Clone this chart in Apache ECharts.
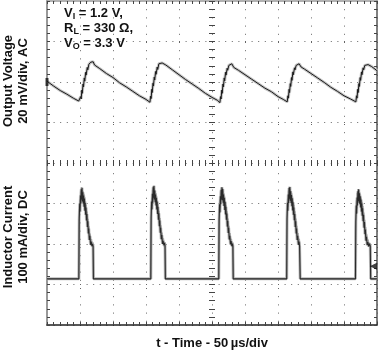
<!DOCTYPE html>
<html>
<head>
<meta charset="utf-8">
<script src="https://cdn.jsdelivr.net/npm/echarts@6/dist/echarts.min.js"></script>
<style>
  html, body { margin: 0; padding: 0; background: #fff; }
  #chart { width: 380px; height: 355px; }
</style>
</head>
<body>
<div id="chart"></div>
<script>
// Time axis: µs (50 µs/div, 10 divisions); vertical axis in screen divisions (8 divisions)
const timeRange = [0, 500];
const timePerDiv = 50;
const divRange = [-4, 4];

const xAxisTitle = 't - Time - 50\u2009µs/div';
const voltageLabel = 'Output Voltage\n20 mV/div, AC';
const currentLabel = 'Inductor Current\n100 mA/div, DC';
const conditionsText = '{n|V}{s|I}{n| = 1.2 V,}\n{n|R}{s|L}{n| = 330 Ω,}\n{n|V}{s|O}{n| = 3.3 V}';

// Output voltage trace [time µs, divisions]
const voltageTrace = [
  [0, 2.02], [10, 1.90], [20, 1.79], [30, 1.70], [40, 1.60], [48, 1.53], [50, 1.49],
  [51, 1.64], [51.8, 1.58], [52.8, 1.80], [53.5, 1.72], [54.6, 1.95], [55.3, 1.88], [56.5, 2.10], [57.2, 2.02], [58.6, 2.24], [59.3, 2.17], [61, 2.36], [61.8, 2.30], [63.5, 2.44], [64.5, 2.40], [66.5, 2.49], [68, 2.46], [70, 2.50],
  [72, 2.42], [80, 2.33], [90, 2.21], [100, 2.11], [110, 1.98], [120, 1.88], [130, 1.77], [140, 1.66], [150, 1.57], [156, 1.50],
  [157, 1.65], [157.8, 1.59], [158.8, 1.82], [159.5, 1.74], [160.6, 1.97], [161.3, 1.90], [162.5, 2.12], [163.2, 2.05], [164.6, 2.26], [165.3, 2.19], [167, 2.37], [167.8, 2.31], [169.5, 2.45], [170.5, 2.41], [172.5, 2.49], [174.5, 2.47], [177, 2.50],
  [180, 2.42], [190, 2.30], [200, 2.18], [210, 2.06], [220, 1.95], [230, 1.84], [240, 1.72], [250, 1.62], [258, 1.55], [262, 1.49],
  [263, 1.64], [263.8, 1.58], [264.8, 1.80], [265.5, 1.72], [266.6, 1.95], [267.3, 1.88], [268.5, 2.10], [269.2, 2.03], [270.6, 2.24], [271.3, 2.17], [273, 2.34], [273.8, 2.29], [275.5, 2.41], [276.5, 2.38], [278.5, 2.45], [280, 2.45],
  [283, 2.36], [290, 2.29], [300, 2.18], [310, 2.07], [320, 1.96], [330, 1.85], [340, 1.76], [350, 1.64], [358, 1.57], [364, 1.51],
  [365, 1.66], [365.8, 1.60], [366.8, 1.82], [367.5, 1.74], [368.6, 1.96], [369.3, 1.89], [370.5, 2.11], [371.2, 2.04], [372.6, 2.25], [373.3, 2.18], [375, 2.35], [375.8, 2.30], [377.5, 2.41], [378.5, 2.38], [380.5, 2.44], [382, 2.45],
  [385, 2.37], [390, 2.32], [400, 2.21], [410, 2.10], [420, 1.99], [430, 1.87], [440, 1.77], [450, 1.66], [460, 1.58], [468, 1.51],
  [469, 1.66], [469.8, 1.60], [470.8, 1.82], [471.5, 1.74], [472.6, 1.96], [473.3, 1.89], [474.5, 2.11], [475.2, 2.04], [476.6, 2.25], [477.3, 2.18], [479, 2.35], [479.8, 2.30], [481.5, 2.41], [482.5, 2.38], [484.5, 2.44], [486.5, 2.43], [488, 2.45],
  [492, 2.38], [500, 2.28]
];

// Inductor current trace (main, dark) [time µs, divisions]
const currentTrace = [
  [0, -2.86],
  [48.3, -2.86], [48.8, -1.4], [49.5, -1.0], [50.1, -1.2], [50.7, -0.8], [51.3, -1.0], [51.9, -0.65], [52.5, -0.9], [53.1, -0.61], [53.7, -0.95], [54.3, -0.72], [54.9, -1.0], [55.5, -0.8], [56.1, -1.08], [56.7, -0.88], [57.3, -1.18], [57.9, -0.98], [58.5, -1.28], [59.1, -1.1], [59.8, -1.42], [60.5, -1.26], [61.2, -1.58], [61.9, -1.44], [62.6, -1.74], [63.3, -1.62], [64.1, -1.9], [65, -1.8], [66, -2.02], [67, -1.94], [68, -2.05], [69, -2.0], [69.8, -2.05], [70.3, -2.86],
  [157.3, -2.86], [157.8, -1.35], [158.5, -0.95], [159.1, -1.15], [159.7, -0.76], [160.3, -0.98], [160.9, -0.6], [161.5, -0.86], [162.1, -0.56], [162.7, -0.9], [163.3, -0.68], [163.9, -0.97], [164.5, -0.78], [165.1, -1.05], [165.7, -0.86], [166.3, -1.15], [166.9, -0.95], [167.5, -1.26], [168.1, -1.08], [168.8, -1.4], [169.5, -1.24], [170.2, -1.56], [170.9, -1.42], [171.6, -1.72], [172.3, -1.6], [173.1, -1.88], [174, -1.78], [175, -2.0], [176, -1.92], [177, -2.03], [178, -1.97], [178.8, -2.04], [179.3, -2.86],
  [260.3, -2.86], [260.8, -1.42], [261.5, -1.02], [262.1, -1.22], [262.7, -0.82], [263.3, -1.02], [263.9, -0.66], [264.5, -0.9], [265.1, -0.6], [265.7, -0.92], [266.3, -0.64], [266.9, -0.98], [267.5, -0.78], [268.1, -1.06], [268.7, -0.86], [269.3, -1.16], [269.9, -0.96], [270.5, -1.27], [271.1, -1.08], [271.8, -1.4], [272.5, -1.25], [273.2, -1.57], [273.9, -1.43], [274.6, -1.73], [275.3, -1.6], [276.1, -1.89], [277, -1.8], [278, -2.01], [279, -1.93], [280, -2.05], [281, -1.99], [281.6, -2.05], [282.1, -2.86],
  [363.2, -2.86], [363.7, -1.38], [364.4, -0.98], [365, -1.18], [365.6, -0.78], [366.2, -0.99], [366.8, -0.62], [367.4, -0.88], [368, -0.59], [368.6, -0.93], [369.2, -0.7], [369.8, -0.99], [370.4, -0.79], [371, -1.07], [371.6, -0.87], [372.2, -1.17], [372.8, -0.97], [373.4, -1.28], [374, -1.1], [374.7, -1.41], [375.4, -1.26], [376.1, -1.58], [376.8, -1.44], [377.5, -1.74], [378.2, -1.62], [379, -1.9], [379.9, -1.8], [380.9, -2.02], [381.9, -1.94], [382.7, -2.05], [383.6, -2.86],
  [467.4, -2.86], [467.9, -1.45], [468.6, -1.05], [469.2, -1.25], [469.8, -0.85], [470.4, -1.05], [471, -0.7], [471.6, -0.94], [472.2, -0.65], [472.8, -0.98], [473.4, -0.75], [474, -1.02], [474.6, -0.82], [475.2, -1.1], [475.8, -0.9], [476.4, -1.2], [477, -1.0], [477.6, -1.3], [478.2, -1.12], [478.9, -1.44], [479.6, -1.28], [480.3, -1.6], [481, -1.46], [481.7, -1.76], [482.4, -1.64], [483.2, -1.92], [484.1, -1.82], [485.1, -2.03], [486.2, -1.95], [487.4, -2.06], [488.6, -1.99], [489.8, -2.05], [490.4, -2.86],
  [500, -2.86]
];

// Inductor current persistence (grey) [time µs, divisions]
const currentPersist = [
  [0, -2.86],
  [47.9, -2.86], [48.3, -1.6], [49.1, -1.15], [49.8, -0.9], [50.4, -1.1], [51, -0.7], [51.6, -0.92], [52.2, -0.6], [52.8, -0.82], [53.4, -0.66], [54, -0.9], [54.6, -0.7], [55.2, -0.96], [55.8, -0.76], [56.4, -1.04], [57, -0.84], [57.6, -1.14], [58.2, -0.94], [58.8, -1.24], [59.4, -1.04], [60.1, -1.36], [60.8, -1.2], [61.5, -1.52], [62.2, -1.38], [62.9, -1.68], [63.6, -1.56], [64.4, -1.84], [65.3, -1.74], [66.3, -1.98], [67.3, -1.88], [68.4, -2.07], [69.5, -1.96], [70.3, -2.08], [70.8, -2.86],
  [156.9, -2.86], [157.3, -1.58], [158.1, -1.12], [158.8, -0.86], [159.4, -1.06], [160, -0.66], [160.6, -0.88], [161.2, -0.57], [161.8, -0.78], [162.4, -0.62], [163, -0.88], [163.6, -0.68], [164.2, -0.94], [164.8, -0.74], [165.4, -1.02], [166, -0.82], [166.6, -1.12], [167.2, -0.92], [167.8, -1.22], [168.4, -1.02], [169.1, -1.34], [169.8, -1.18], [170.5, -1.5], [171.2, -1.36], [171.9, -1.66], [172.6, -1.54], [173.4, -1.82], [174.3, -1.72], [175.3, -1.96], [176.3, -1.86], [177.4, -2.06], [178.5, -1.95], [179.2, -2.08], [179.7, -2.86],
  [259.9, -2.86], [260.3, -1.62], [261.1, -1.16], [261.8, -0.9], [262.4, -1.1], [263, -0.7], [263.6, -0.92], [264.2, -0.6], [264.8, -0.84], [265.4, -0.62], [266, -0.86], [266.6, -0.68], [267.2, -0.95], [267.8, -0.75], [268.4, -1.03], [269, -0.83], [269.6, -1.13], [270.2, -0.93], [270.8, -1.23], [271.4, -1.03], [272.1, -1.35], [272.8, -1.19], [273.5, -1.51], [274.2, -1.37], [274.9, -1.67], [275.6, -1.55], [276.4, -1.83], [277.3, -1.73], [278.3, -1.97], [279.3, -1.87], [280.4, -2.07], [281.4, -1.96], [282.1, -2.08], [282.6, -2.86],
  [362.8, -2.86], [363.2, -1.6], [364, -1.14], [364.7, -0.88], [365.3, -1.08], [365.9, -0.68], [366.5, -0.9], [367.1, -0.59], [367.7, -0.8], [368.3, -0.64], [368.9, -0.88], [369.5, -0.69], [370.1, -0.95], [370.7, -0.75], [371.3, -1.03], [371.9, -0.83], [372.5, -1.13], [373.1, -0.93], [373.7, -1.23], [374.3, -1.03], [375, -1.35], [375.7, -1.19], [376.4, -1.51], [377.1, -1.37], [377.8, -1.67], [378.5, -1.55], [379.3, -1.83], [380.2, -1.73], [381.2, -1.97], [382.2, -1.87], [383.1, -2.07], [383.9, -2.86],
  [467, -2.86], [467.4, -1.64], [468.2, -1.18], [468.9, -0.92], [469.5, -1.12], [470.1, -0.74], [470.7, -0.96], [471.3, -0.64], [471.9, -0.86], [472.5, -0.67], [473.1, -0.92], [473.7, -0.72], [474.3, -0.98], [474.9, -0.78], [475.5, -1.06], [476.1, -0.86], [476.7, -1.16], [477.3, -0.96], [477.9, -1.26], [478.5, -1.06], [479.2, -1.38], [479.9, -1.22], [480.6, -1.54], [481.3, -1.4], [482, -1.7], [482.7, -1.58], [483.5, -1.86], [484.4, -1.76], [485.4, -1.99], [486.5, -1.89], [487.7, -2.07], [488.9, -1.97], [490.1, -2.08], [490.8, -2.86],
  [500, -2.86]
];

// Channel reference markers [time µs, divisions]
const ch1Marker = [0, 2.0];
const ch2Marker = [494.5, -2.55];

const FONT = '"Liberation Sans", Arial, sans-serif';
const tickColor = '#444';

function edgeAxisX(position, lineColor, lineWidth, extra) {
  return Object.assign({
    type: 'value', gridIndex: 0, min: timeRange[0], max: timeRange[1], interval: timePerDiv,
    position: position,
    axisLine: { show: true, onZero: false, lineStyle: { color: lineColor, width: lineWidth } },
    axisTick: { show: true, inside: true, length: 3, lineStyle: { color: tickColor } },
    minorTick: { show: true, splitNumber: 5, length: 3, lineStyle: { color: tickColor } },
    axisLabel: { show: false },
    splitLine: { show: false }
  }, extra || {});
}
function centerAxisX(inside) {
  return {
    type: 'value', gridIndex: 0, min: timeRange[0], max: timeRange[1], interval: timePerDiv,
    position: 'bottom',
    axisLine: { show: false, onZero: true, onZeroAxisIndex: 0 },
    axisTick: { show: true, inside: inside, length: 3, lineStyle: { color: tickColor } },
    minorTick: { show: true, splitNumber: 5, length: 3, lineStyle: { color: tickColor } },
    axisLabel: { show: false },
    splitLine: { show: false }
  };
}
function edgeAxisY(position, lineColor, lineWidth, extra) {
  return Object.assign({
    type: 'value', gridIndex: 0, min: divRange[0], max: divRange[1], interval: 1,
    position: position,
    axisLine: { show: true, onZero: false, lineStyle: { color: lineColor, width: lineWidth } },
    axisTick: { show: true, inside: true, length: 3, lineStyle: { color: tickColor } },
    minorTick: { show: true, splitNumber: 5, length: 3, lineStyle: { color: tickColor } },
    axisLabel: { show: false },
    splitLine: { show: false }
  }, extra || {});
}
function centerAxisY(inside) {
  return {
    type: 'value', gridIndex: 0, min: divRange[0], max: divRange[1], interval: 1,
    position: 'left', offset: -165,
    axisLine: { show: false, onZero: false },
    axisTick: { show: true, inside: inside, length: 3, lineStyle: { color: tickColor } },
    minorTick: { show: true, splitNumber: 5, length: 3, lineStyle: { color: tickColor } },
    axisLabel: { show: false },
    splitLine: { show: false }
  };
}

const chart = echarts.init(document.getElementById('chart'), null, { renderer: 'canvas' });
chart.setOption({
  animation: false,
  backgroundColor: '#ffffff',
  grid: { left: 47, right: 3, top: 1, bottom: 27, containLabel: false },
  xAxis: [
    edgeAxisX('bottom', '#222', 1.5, {
      splitLine: { show: true, lineStyle: { type: [1, 7.2], color: '#666', width: 1 } },
      name: xAxisTitle, nameLocation: 'middle', nameGap: 12,
      nameTextStyle: { fontSize: 13, fontWeight: 'bold', fontFamily: FONT, color: '#111' }
    }),
    edgeAxisX('top', '#999', 1.5),
    centerAxisX(true),
    centerAxisX(false)
  ],
  yAxis: [
    edgeAxisY('left', '#999', 2, {
      splitLine: { show: true, lineStyle: { type: [1, 5.6], color: '#666', width: 1 } }
    }),
    edgeAxisY('right', '#555', 1.5),
    centerAxisY(true),
    centerAxisY(false)
  ],
  graphic: [
    { type: 'text', x: 16, y: 81, rotation: Math.PI / 2, silent: true,
      style: { text: voltageLabel, fontSize: 13, fontWeight: 'bold', fontFamily: FONT, fill: '#111',
               align: 'center', verticalAlign: 'middle', lineHeight: 15 } },
    { type: 'text', x: 16, y: 237, rotation: Math.PI / 2, silent: true,
      style: { text: currentLabel, fontSize: 13, fontWeight: 'bold', fontFamily: FONT, fill: '#111',
               align: 'center', verticalAlign: 'middle', lineHeight: 15 } },
    { type: 'text', left: 64, top: 7, silent: true,
      style: { text: conditionsText, fill: '#111',
               rich: {
                 n: { fontSize: 13, fontWeight: 'bold', fontFamily: FONT, lineHeight: 15, fill: '#111' },
                 s: { fontSize: 9, fontWeight: 'bold', fontFamily: FONT, lineHeight: 7, verticalAlign: 'bottom', fill: '#111' }
               } } }
  ],
  series: [
    { type: 'line', name: 'voltageHalo', xAxisIndex: 0, yAxisIndex: 0, data: voltageTrace,
      symbol: 'none', silent: true, lineStyle: { color: '#c4c4c4', width: 3 }, z: 2 },
    { type: 'line', name: 'voltage', xAxisIndex: 0, yAxisIndex: 0, data: voltageTrace,
      symbol: 'none', silent: true, lineStyle: { color: '#1a1a1a', width: 1 }, z: 3 },
    { type: 'line', name: 'currentHalo', xAxisIndex: 0, yAxisIndex: 0, data: currentTrace,
      symbol: 'none', silent: true, lineStyle: { color: '#bcbcbc', width: 3 }, z: 2 },
    { type: 'line', name: 'currentPersist', xAxisIndex: 0, yAxisIndex: 0, data: currentPersist,
      symbol: 'none', silent: true, lineStyle: { color: '#a0a0a0', width: 1.5 }, z: 2 },
    { type: 'line', name: 'current', xAxisIndex: 0, yAxisIndex: 0, data: currentTrace,
      symbol: 'none', silent: true, lineStyle: { color: '#2a2a2a', width: 1.1 }, z: 3 },
    { type: 'scatter', name: 'markers', xAxisIndex: 0, yAxisIndex: 0, silent: true, z: 4,
      itemStyle: { color: '#111' },
      data: [
        { value: ch1Marker, symbol: 'rect', symbolSize: [3, 8] },
        { value: ch2Marker, symbol: 'triangle', symbolRotate: 90, symbolSize: [7, 7] }
      ] }
  ]
});
</script>
</body>
</html>
